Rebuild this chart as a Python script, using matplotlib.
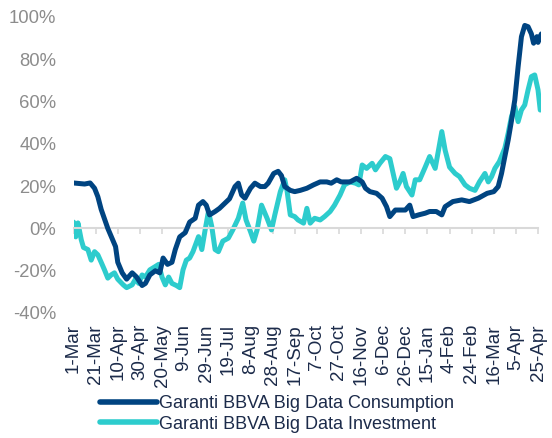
import matplotlib
matplotlib.use('Agg')
import matplotlib.pyplot as plt

# days counted from 1-Mar-2020
cons_day = [0, 10, 15, 19, 22, 25, 31, 38, 40, 44, 48, 53, 57, 62, 65, 69, 74, 78, 81, 85, 89, 92, 96,
            101, 105, 110, 113, 117, 120, 123, 128, 132, 137, 141, 146, 149, 152, 155, 160, 164, 169,
            173, 176, 181, 185, 188, 191, 196, 200, 205, 211, 217, 223, 229, 233, 238, 242, 250, 256,
            261, 264, 268, 274, 279, 283, 286, 291, 295, 300, 304, 307, 312, 318, 322, 328, 333, 336,
            343, 351, 358, 366, 374, 380, 384, 387, 390, 393, 396, 399, 402, 405, 408, 411, 414, 416,
            419, 420, 423]
cons_val = [21.5, 21, 21.5, 19, 15, 9, 0, -8.6, -16, -21, -24, -21, -23, -27, -26, -22, -20, -21, -14, -17,
            -16, -10, -4, -2, 3, 4.8, 11, 12.7, 11, 6.4, 8, 9.5, 12, 14, 19.8, 21.4, 15.8, 14.3, 19, 21.4,
            19.8, 19.8, 21.4, 26, 27, 25, 19.8, 18, 17.4, 18, 19, 20.6, 22, 22, 21.4, 23, 22, 22, 23.7,
            22, 19, 17.4, 16.6, 14.3, 10.3, 5.6, 8.7, 8.7, 8.7, 11, 5.6, 6.4, 7.2, 8, 8, 6.4, 10.3,
            12.7, 13.5, 12.7, 14.3, 16.6, 17.4, 19.8, 26, 34, 41.8, 51, 60.8, 76.5, 90.7, 96, 95.4, 92,
            87.6, 90.7, 88, 92]

inv_day = [0, 2, 4, 7, 9, 13, 16, 19, 22, 25, 28, 31, 34, 37, 40, 45, 48, 53, 56, 59, 62, 65, 69, 74,
           77, 80, 83, 86, 89, 93, 96, 99, 102, 105, 108, 113, 116, 119, 122, 125, 128, 131, 135, 140,
           144, 149, 153, 156, 160, 163, 166, 170, 175, 179, 182, 187, 191, 193, 196, 200, 203, 208,
           211, 214, 218, 223, 227, 232, 236, 241, 245, 250, 255, 258, 261, 265, 270, 273, 277, 282,
           286, 289, 292, 295, 298, 301, 306, 309, 313, 318, 322, 327, 330, 333, 336, 340, 345, 349,
           354, 358, 363, 367, 372, 375, 378, 381, 385, 390, 393, 396, 399, 402, 405, 408, 411, 414,
           417, 420, 422]
inv_val = [3, -4, 2.6, -5.4, -9, -10, -15, -11, -12.5, -16, -19.6, -23.5, -22, -21, -24, -26.7, -28,
           -26.7, -24, -26, -22, -23, -19.6, -18, -17, -23, -26.7, -23, -26, -27, -28, -19.6, -15, -14,
           -11, -3.9, -10, -0.7, 8, 0.9, -10, -11, -6, -4.6, -0.7, 4.8, 12, 4, -1.5, -6, -0.7, 11, 4.8,
           -0.7, 6.4, 17.4, 23, 18, 6.4, 5.6, 4, 2.5, 9.5, 2.5, 4.8, 4, 5.6, 8, 11, 15.8, 20.6, 22,
           21.4, 20.6, 30, 28.4, 30.8, 27.7, 30.8, 34, 33, 26, 19, 22, 26, 19.8, 15.8, 23, 23, 29, 34,
           28.4, 37, 45.8, 37, 29, 26, 24.5, 20.6, 19, 18, 22, 26, 22, 24.5, 28.4, 31.6, 38, 45, 52.9,
           57.6, 50.5, 56, 58.4, 65.5, 71.8, 72.6, 65.5, 56]

tick_days = list(range(0, 421, 20))
tick_labels = ['1-Mar', '21-Mar', '10-Apr', '30-Apr', '20-May', '9-Jun', '29-Jun', '19-Jul',
               '8-Aug', '28-Aug', '17-Sep', '7-Oct', '27-Oct', '16-Nov', '6-Dec', '26-Dec',
               '15-Jan', '4-Feb', '24-Feb', '16-Mar', '5-Apr', '25-Apr']
y_ticks = [-40, -20, 0, 20, 40, 60, 80, 100]

plt.rcParams['font.family'] = ['Liberation Sans', 'DejaVu Sans']

fig = plt.figure(figsize=(5.52, 4.38), dpi=100)
ax = fig.add_axes([0.1332, 0.2854, 0.8475, 0.6758])

ax.plot(cons_day, cons_val, color='#004481', lw=3.6, solid_capstyle='round',
        label='Garanti BBVA Big Data Consumption', zorder=3)
ax.plot(inv_day, inv_val, color='#2DCCCD', lw=3.6, solid_capstyle='round',
        label='Garanti BBVA Big Data Investment', zorder=2)

ax.set_xlim(0, 423)
ax.set_ylim(-40, 100)

for s in ['left', 'right', 'top']:
    ax.spines[s].set_visible(False)
# category axis crosses at 0
ax.spines['bottom'].set_position(('data', 0))
ax.spines['bottom'].set_bounds(0, 420)
ax.spines['bottom'].set_color('#d9d9d9')
ax.spines['bottom'].set_linewidth(1.5)
ax.set_xticks(tick_days)
ax.tick_params(axis='x', direction='out', length=4, width=1.2, color='#d9d9d9',
               labelbottom=False)

ax.set_yticks(y_ticks)
ax.set_yticklabels([f'{v}%' for v in y_ticks])
ax.tick_params(axis='y', length=0, pad=12.5, labelsize=13.3, labelcolor='#8c8c8c')

# labels sit at the bottom of the plot area
sec = ax.secondary_xaxis('bottom')
sec.set_xticks(tick_days)
sec.set_xticklabels(tick_labels, rotation=90)
sec.tick_params(length=0, pad=8, labelsize=13.5, labelcolor='#1c2b4a')
sec.spines['bottom'].set_visible(False)

leg = fig.legend(loc='upper left', bbox_to_anchor=(0.181, 0.098), frameon=False,
                 borderpad=0, borderaxespad=0, handlelength=3.15, handletextpad=0.1,
                 labelspacing=0.2, fontsize=13, labelcolor='#1c2b4a')
for h in leg.legend_handles:
    h.set_linewidth(4)

fig.savefig('out.png', dpi=100)
